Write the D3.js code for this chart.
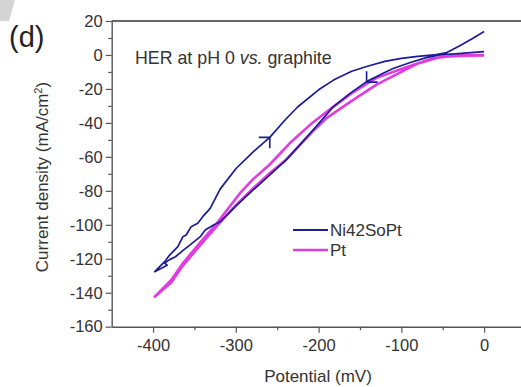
<!DOCTYPE html>
<html>
<head>
<meta charset="utf-8">
<script src="https://cdn.jsdelivr.net/npm/d3@7"></script>
<style>
  body { margin: 0; background: #fff; }
  text { font-family: Arial, "Liberation Sans", sans-serif; fill: #333; }
</style>
</head>
<body>
<svg id="chart" width="521" height="387"></svg>
<script>
// Ni42SoPt: sweep from 0 mV down to -400 mV (lower branch), then back (upper branch)
const niPotential = [
  0, -20, -35, -53.5, -70, -90, -110, -122, -142, -162, -182, -206, -239, -279, -300, -319,
  -327, -337, -343, -353, -363, -373, -380, -386, -383, -390, -398,
  -386, -380, -370, -364, -360, -354, -346, -340, -331, -319, -300, -280, -259, -240, -225,
  -200, -182, -160, -142, -120, -100, -80, -61, -45, -30, -15, 0
];
const niCurrent = [
  2, 1.2, 0.6, 0, -1.6, -4.6, -8, -10.8, -15.7, -22.6, -30.4, -43.8, -61.8, -79.5, -89, -98.2,
  -100.1, -103.1, -107, -110.9, -114.8, -118.8, -120.5, -122.6, -123.8, -125.6, -127.6,
  -121.7, -117.8, -112.9, -107, -106, -101.1, -99.1, -95.2, -90.3, -79, -67, -57.5, -48.5, -38, -30.5,
  -20.5, -14.8, -9.6, -6.8, -3.8, -2, -0.8, 0, 1.4, 5.3, 9.4, 13.8
];

// Pt: forward (lower) branch then return (upper) branch
const ptPotential = [
  0, -30, -53, -80, -100, -130, -160, -190, -205, -239, -260, -279, -300, -323, -344, -364, -378, -398,
  -378, -364, -344, -323, -295, -280, -259, -235, -210, -182, -160, -142, -130, -100, -62, -30, 0
];
const ptCurrent = [
  -0.5, -0.6, -1.2, -5, -10, -17.5, -27, -37, -44, -61.5, -70, -78.5, -88.5, -100.8, -112.6, -124, -134, -142.3,
  -132.5, -122.7, -110.9, -99.1, -81.4, -73.5, -64.5, -52, -41, -30.4, -22.5, -17, -13.5, -8.3, -1.9, -0.2, 0
];

// sweep direction arrows on the Ni42SoPt curve
const arrowPotential = [-259, -142];
const arrowCurrent = [-48.5, -16];
const arrowHeading = ['up-right', 'down-left'];

const xTicks = [-400, -300, -200, -100, 0];
const xMinorTicks = [-350, -250, -150, -50];
const yTicks = [20, 0, -20, -40, -60, -80, -100, -120, -140, -160];
const yMinorTicks = [10, -10, -30, -50, -70, -90, -110, -130, -150];

const seriesNames = ['Ni42SoPt', 'Pt'];
const seriesColors = ['#1c1c96', '#e03ce0'];

const svg = d3.select('#chart');

const x = d3.scaleLinear().domain([-450, 50]).range([111.7, 525.5]);
const y = d3.scaleLinear().domain([-160, 20]).range([326.7, 21]);

// scanned-page corner artifact
svg.append('polygon')
  .attr('points', '0,0 15,0 9,21 0,21')
  .attr('fill', '#d4d4d4');

// top frame line
svg.append('line')
  .attr('x1', x(-450)).attr('x2', x(50))
  .attr('y1', y(20)).attr('y2', y(20))
  .attr('stroke', '#666').attr('stroke-width', 1.8);

function styleAxis(g) {
  g.selectAll('.domain').attr('stroke', '#555').attr('stroke-width', 1.4);
  g.selectAll('.tick line').attr('stroke', '#555').attr('stroke-width', 1.2);
  g.selectAll('.tick text')
    .attr('fill', '#333')
    .style('font-family', 'Arial, "Liberation Sans", sans-serif')
    .style('font-size', '16.5px');
}

const plainFormat = d => String(d);

// x axis
svg.append('g')
  .attr('transform', `translate(0,${y(-160)})`)
  .call(d3.axisBottom(x).tickValues(xMinorTicks).tickSize(3.5).tickFormat(''))
  .call(g => g.select('.domain').remove())
  .call(styleAxis);
svg.append('g')
  .attr('transform', `translate(0,${y(-160)})`)
  .call(d3.axisBottom(x).tickValues(xTicks).tickSize(6).tickSizeOuter(0).tickPadding(7).tickFormat(plainFormat))
  .call(styleAxis);

// y axis
svg.append('g')
  .attr('transform', `translate(${x(-450)},0)`)
  .call(d3.axisLeft(y).tickValues(yMinorTicks).tickSize(3.5).tickFormat(''))
  .call(g => g.select('.domain').remove())
  .call(styleAxis);
svg.append('g')
  .attr('transform', `translate(${x(-450)},0)`)
  .call(d3.axisLeft(y).tickValues(yTicks).tickSize(6).tickSizeOuter(0).tickPadding(3).tickFormat(plainFormat))
  .call(styleAxis);

// axis titles
svg.append('text')
  .attr('x', 318).attr('y', 382)
  .attr('text-anchor', 'middle')
  .style('font-size', '17px')
  .text('Potential (mV)');

const yTitle = svg.append('text')
  .attr('transform', 'translate(48,177) rotate(-90)')
  .attr('text-anchor', 'middle')
  .style('font-size', '17px');
yTitle.append('tspan').text('Current density (mA/cm');
yTitle.append('tspan').attr('dy', -6).style('font-size', '11px').text('2');
yTitle.append('tspan').attr('dy', 6).text(')');

// panel label
svg.append('text')
  .attr('x', 9).attr('y', 47)
  .style('font-size', '29px')
  .style('fill', '#222')
  .text('(d)');

// in-plot title
const title = svg.append('text')
  .attr('x', 135).attr('y', 64)
  .style('font-size', '17.8px');
title.append('tspan').text('HER at pH 0 ');
title.append('tspan').style('font-style', 'italic').text('vs.');
title.append('tspan').text(' graphite');

// curves
const line = d3.line()
  .x(d => x(d[0]))
  .y(d => y(d[1]));

const ptData = ptPotential.map((v, i) => [v, ptCurrent[i]]);
const niData = niPotential.map((v, i) => [v, niCurrent[i]]);

svg.append('path')
  .datum(ptData)
  .attr('d', line)
  .attr('fill', 'none')
  .attr('stroke', seriesColors[1])
  .attr('stroke-width', 2.6)
  .attr('stroke-linejoin', 'round');

svg.append('path')
  .datum(niData)
  .attr('d', line)
  .attr('fill', 'none')
  .attr('stroke', seriesColors[0])
  .attr('stroke-width', 1.7)
  .attr('stroke-linejoin', 'round');

// direction arrows
arrowPotential.forEach((v, i) => {
  const px = x(v), py = y(arrowCurrent[i]);
  const len = 11;
  const barbs = arrowHeading[i] === 'up-right'
    ? [[-len, 0], [0, len]]
    : [[0, -len], [len, 0]];
  svg.append('path')
    .attr('d', `M${px + barbs[0][0]},${py + barbs[0][1]}L${px},${py}L${px + barbs[1][0]},${py + barbs[1][1]}`)
    .attr('fill', 'none')
    .attr('stroke', seriesColors[0])
    .attr('stroke-width', 1.6);
});

// legend
const legend = svg.append('g').attr('transform', 'translate(293,230)');
seriesNames.forEach((name, i) => {
  const row = legend.append('g').attr('transform', `translate(0,${i * 20})`);
  row.append('line')
    .attr('x1', 0).attr('x2', 35)
    .attr('y1', 0).attr('y2', 0)
    .attr('stroke', seriesColors[i])
    .attr('stroke-width', i === 0 ? 2 : 2.6);
  row.append('text')
    .attr('x', 37).attr('y', 6)
    .style('font-size', '17px')
    .text(name);
});
</script>
</body>
</html>
